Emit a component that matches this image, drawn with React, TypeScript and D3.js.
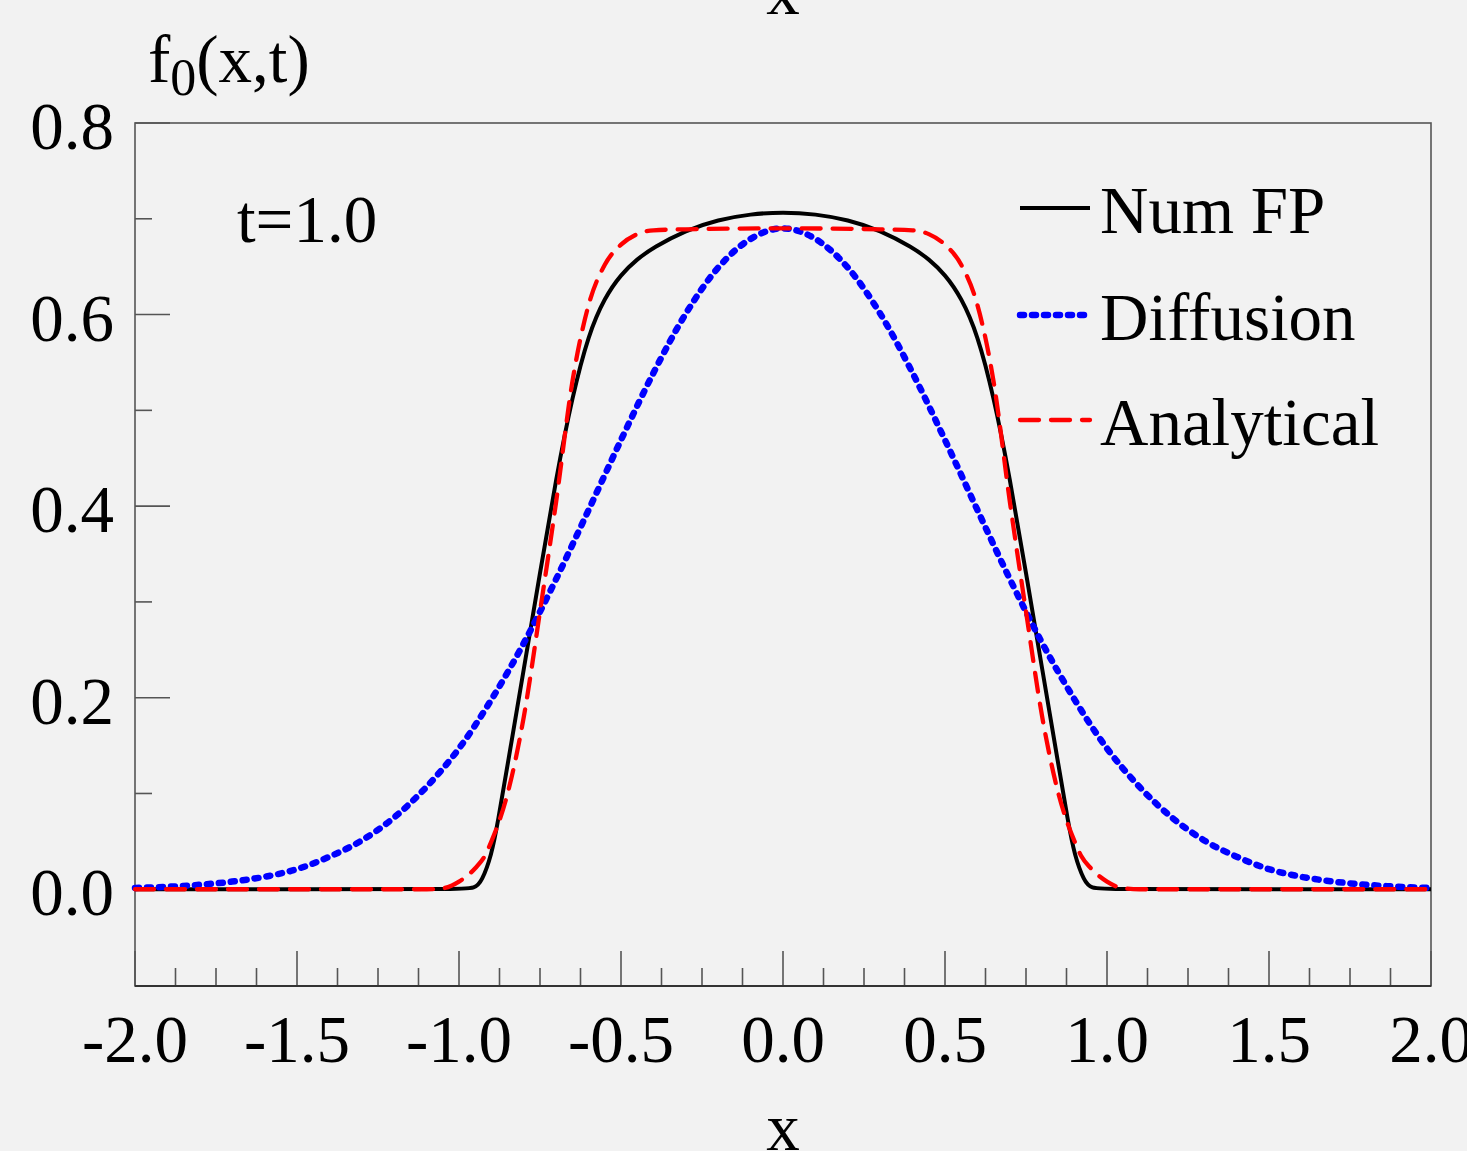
import React, { useRef, useEffect } from 'react';
import * as d3 from 'd3';

// Num FP (solid black)
const xNumFP = [-2.0, -1.5, -1.0, -0.95, -0.93, -0.9, -0.88, -0.85, -0.8, -0.75, -0.7, -0.65, -0.6, -0.55, -0.5, -0.45, -0.4, -0.3, -0.2, -0.1, 0.0,
  0.1, 0.2, 0.3, 0.4, 0.45, 0.5, 0.55, 0.6, 0.65, 0.7, 0.75, 0.8, 0.85, 0.88, 0.9, 0.93, 0.95, 1.0, 1.5, 2.0];
const yNumFP = [0, 0, 0, 0.001, 0.008, 0.035, 0.07, 0.13, 0.23, 0.33, 0.43, 0.515, 0.58, 0.618, 0.642, 0.658, 0.67, 0.688, 0.699, 0.705, 0.707,
  0.705, 0.699, 0.688, 0.67, 0.658, 0.642, 0.618, 0.58, 0.515, 0.43, 0.33, 0.23, 0.13, 0.07, 0.035, 0.008, 0.001, 0, 0, 0];

// Diffusion (blue dotted)
const xDiffusion = [-2.0, -1.9, -1.8, -1.7, -1.6, -1.5, -1.4, -1.3, -1.2, -1.1, -1.0, -0.9, -0.8, -0.7, -0.6, -0.5, -0.4, -0.3, -0.2, -0.1, 0.0,
  0.1, 0.2, 0.3, 0.4, 0.5, 0.6, 0.7, 0.8, 0.9, 1.0, 1.1, 1.2, 1.3, 1.4, 1.5, 1.6, 1.7, 1.8, 1.9, 2.0];
const yDiffusion = [0.0014, 0.0026, 0.0047, 0.008, 0.013, 0.021, 0.034, 0.051, 0.075, 0.107, 0.147, 0.198, 0.257, 0.324, 0.396, 0.469, 0.539, 0.601, 0.649, 0.679, 0.69,
  0.679, 0.649, 0.601, 0.539, 0.469, 0.396, 0.324, 0.257, 0.198, 0.147, 0.107, 0.075, 0.051, 0.034, 0.021, 0.013, 0.008, 0.0047, 0.0026, 0.0014];

// Analytical (red dashed)
const xAnalytical = [-2.0, -1.5, -1.1, -1.05, -1.0, -0.95, -0.92, -0.9, -0.85, -0.8, -0.75, -0.7, -0.65, -0.6, -0.55, -0.5, -0.45, -0.4, -0.3, 0.0,
  0.3, 0.4, 0.45, 0.5, 0.55, 0.6, 0.65, 0.7, 0.75, 0.8, 0.85, 0.9, 0.92, 0.95, 1.0, 1.05, 1.1, 1.5, 2.0];
const yAnalytical = [0, 0, 0, 0.001, 0.008, 0.022, 0.035, 0.05, 0.1, 0.18, 0.29, 0.405, 0.53, 0.61, 0.652, 0.673, 0.684, 0.688, 0.689, 0.69,
  0.689, 0.688, 0.684, 0.673, 0.652, 0.61, 0.53, 0.405, 0.29, 0.18, 0.1, 0.05, 0.035, 0.022, 0.008, 0.001, 0, 0, 0];

const xTicks = [-2.0, -1.5, -1.0, -0.5, 0.0, 0.5, 1.0, 1.5, 2.0];
const xTickLabels = ['-2.0', '-1.5', '-1.0', '-0.5', '0.0', '0.5', '1.0', '1.5', '2.0'];
const yTicks = [0.0, 0.2, 0.4, 0.6, 0.8];
const yTickLabels = ['0.0', '0.2', '0.4', '0.6', '0.8'];

const series = [
  { name: 'Num FP', xs: xNumFP, ys: yNumFP, color: '#000', width: 4, dash: null, cap: 'butt', curve: d3.curveBasis },
  { name: 'Diffusion', xs: xDiffusion, ys: yDiffusion, color: '#0000ff', width: 6.5, dash: '4 8', cap: 'round', curve: d3.curveMonotoneX },
  { name: 'Analytical', xs: xAnalytical, ys: yAnalytical, color: '#ff0000', width: 4.3, dash: '19 12', cap: 'round', curve: d3.curveMonotoneX },
];

const App = () => {
  const svgRef = useRef(null);

  useEffect(() => {
    const width = 1467;
    const height = 1151;
    const left = 135, right = 1431, top = 123, bottom = 986;
    const font = '"Liberation Serif", "Times New Roman", serif';
    const axisColor = '#555';

    const svg = d3.select(svgRef.current);
    svg.selectAll('*').remove();
    svg.attr('width', width).attr('height', height);

    svg.append('rect').attr('width', width).attr('height', height).attr('fill', '#f2f2f2');

    const x = d3.scaleLinear().domain([-2, 2]).range([left, right]);
    const y = d3.scaleLinear().domain([-0.101, 0.8]).range([bottom, top]);

    // ticks
    const g = svg.append('g').attr('stroke', axisColor).attr('stroke-width', 1.6);
    const xMinor = d3.range(-2, 2.0001, 0.125).filter(v => !xTicks.some(t => Math.abs(t - v) < 1e-6));
    xTicks.forEach(v => g.append('line').attr('x1', x(v)).attr('x2', x(v)).attr('y1', bottom).attr('y2', bottom - 35));
    xMinor.forEach(v => g.append('line').attr('x1', x(v)).attr('x2', x(v)).attr('y1', bottom).attr('y2', bottom - 18));
    const yMinor = [0.1, 0.3, 0.5, 0.7];
    yTicks.forEach(v => g.append('line').attr('x1', left).attr('x2', left + 35).attr('y1', y(v)).attr('y2', y(v)));
    yMinor.forEach(v => g.append('line').attr('x1', left).attr('x2', left + 17).attr('y1', y(v)).attr('y2', y(v)));

    // frame
    svg.append('rect')
      .attr('x', left).attr('y', top)
      .attr('width', right - left).attr('height', bottom - top)
      .attr('fill', 'none').attr('stroke', axisColor).attr('stroke-width', 1.6);
    svg.append('line').attr('x1', left).attr('x2', right).attr('y1', bottom).attr('y2', bottom)
      .attr('stroke', '#333').attr('stroke-width', 2.2);

    // curves
    series.forEach(s => {
      const line = d3.line().x(d => x(d[0])).y(d => y(d[1])).curve(s.curve);
      const pts = s.xs.map((v, i) => [v, s.ys[i]]);
      const p = svg.append('path')
        .attr('d', line(pts))
        .attr('fill', 'none')
        .attr('stroke', s.color)
        .attr('stroke-width', s.width)
        .attr('stroke-linecap', s.cap)
        .attr('stroke-linejoin', 'round');
      if (s.dash) p.attr('stroke-dasharray', s.dash);
    });

    // tick labels
    const txt = svg.append('g').attr('font-family', font).attr('font-size', 67).attr('fill', '#000');
    xTicks.forEach((v, i) => txt.append('text').attr('x', x(v)).attr('y', 1062).attr('text-anchor', 'middle').text(xTickLabels[i]));
    yTicks.forEach((v, i) => txt.append('text').attr('x', 114).attr('y', y(v) + 26).attr('text-anchor', 'end').text(yTickLabels[i]));

    // axis titles
    txt.append('text').attr('x', x(0)).attr('y', 14).attr('text-anchor', 'middle').text('x');
    txt.append('text').attr('x', x(0)).attr('y', 1150).attr('text-anchor', 'middle').text('x');
    const yt = txt.append('text').attr('x', 148).attr('y', 82);
    yt.append('tspan').text('f');
    yt.append('tspan').attr('font-size', 52).attr('dy', 13).text('0');
    yt.append('tspan').attr('dy', -13).text('(x,t)');

    txt.append('text').attr('x', 237).attr('y', 242).text('t=1.0');

    // legend
    const legY = [208, 315, 420];
    series.forEach((s, i) => {
      const l = svg.append('line')
        .attr('x1', 1020).attr('x2', 1090)
        .attr('y1', legY[i]).attr('y2', legY[i])
        .attr('stroke', s.color).attr('stroke-width', s.width)
        .attr('stroke-linecap', s.cap);
      if (s.dash) l.attr('stroke-dasharray', s.dash);
      txt.append('text').attr('x', 1100).attr('y', legY[i] + 25).text(s.name);
    });
  }, []);

  return <svg ref={svgRef} style={{ position: 'absolute', left: 0, top: 0 }}></svg>;
};

export default App;
